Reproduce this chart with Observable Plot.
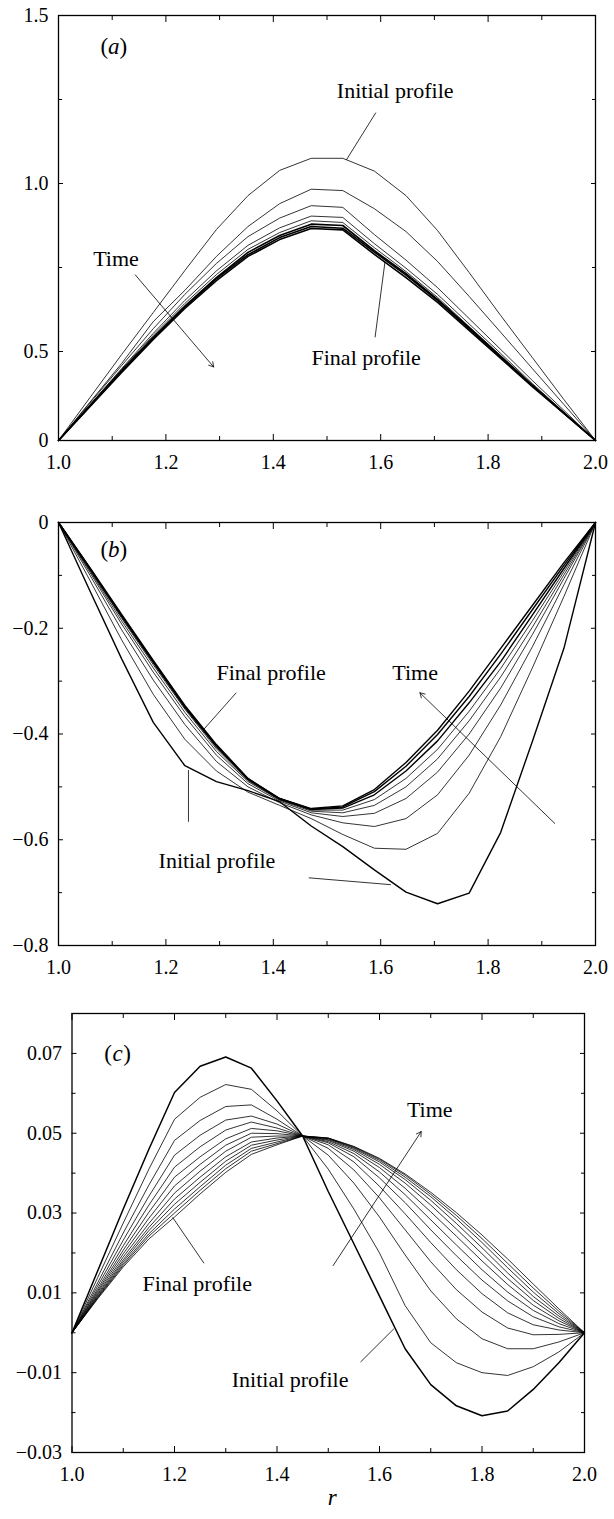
<!DOCTYPE html>
<html><head><meta charset="utf-8">
<script src="https://cdn.jsdelivr.net/npm/d3@7"></script>
<script src="https://cdn.jsdelivr.net/npm/@observablehq/plot@0.6"></script>
<style>body{margin:0;background:#fff} #chart svg{display:block}</style>
</head><body><div id="chart"></div>
<script>
// ---------- shared axis data ----------
const xMajor = [1, 1.2, 1.4, 1.6, 1.8, 2];
const xMajorLabels = ["1.0", "1.2", "1.4", "1.6", "1.8", "2.0"];
const xMinor = [1.1, 1.3, 1.5, 1.7, 1.9];

// ---------- panel (a) ----------
const rA = [1, 1.0588, 1.1176, 1.1765, 1.2353, 1.2941, 1.3529, 1.4118, 1.4706, 1.5294, 1.5882, 1.6471, 1.7059, 1.7647, 1.8235, 1.8824, 1.9412, 2];
const aInitial = [0, 0.242, 0.483, 0.616, 0.741, 0.863, 0.964, 1.039, 1.075, 1.075, 1.037, 0.964, 0.860, 0.735, 0.607, 0.466, 0.230, 0];
const aStep1 = [0, 0.216, 0.433, 0.589, 0.682, 0.783, 0.872, 0.940, 0.983, 0.979, 0.925, 0.857, 0.768, 0.664, 0.557, 0.404, 0.202, 0];
const aStep2 = [0, 0.211, 0.421, 0.568, 0.670, 0.762, 0.842, 0.897, 0.934, 0.929, 0.848, 0.772, 0.690, 0.598, 0.506, 0.337, 0.169, 0];
const aStep3 = [0, 0.202, 0.404, 0.554, 0.652, 0.740, 0.816, 0.868, 0.903, 0.899, 0.821, 0.748, 0.670, 0.582, 0.489, 0.320, 0.160, 0];
const aStep4 = [0, 0.199, 0.399, 0.548, 0.643, 0.729, 0.804, 0.854, 0.889, 0.884, 0.809, 0.738, 0.661, 0.574, 0.478, 0.315, 0.157, 0];
const aStep5 = [0, 0.197, 0.393, 0.542, 0.635, 0.720, 0.795, 0.845, 0.879, 0.875, 0.800, 0.732, 0.655, 0.571, 0.472, 0.309, 0.154, 0];
const aStep6 = [0, 0.194, 0.388, 0.539, 0.632, 0.717, 0.788, 0.839, 0.872, 0.867, 0.796, 0.727, 0.652, 0.568, 0.469, 0.309, 0.154, 0];
const aFinal = [0, 0.191, 0.382, 0.536, 0.628, 0.711, 0.783, 0.833, 0.866, 0.862, 0.789, 0.720, 0.646, 0.563, 0.461, 0.303, 0.152, 0];
const yMajorA = [0, 0.5, 1, 1.5];
const yMajorLabelsA = ["0", "0.5", "1.0", "1.5"];
const yMinorA = [0.75, 1.25];
const textsA = [
  {r: 1.627, v: 1.276, text: "Initial profile"},
  {r: 1.107, v: 0.775, text: "Time"},
  {r: 1.573, v: 0.464, text: "Final profile"}
];
const leadersA = [
  {r1: 1.591, v1: 1.211, r2: 1.536, v2: 1.070},
  {r1: 1.5895, v1: 0.542, r2: 1.608, v2: 0.767}
];
const arrowsA = [{r1: 1.143, v1: 0.728, r2: 1.289, v2: 0.413}];
const panelLabelA = [{r: 1.103, v: 1.407, letter: "a"}];

// ---------- panel (b) ----------
const rB = rA;
const bInitial = [0, -0.130, -0.258, -0.378, -0.460, -0.490, -0.507, -0.528, -0.574, -0.613, -0.657, -0.699, -0.721, -0.701, -0.586, -0.414, -0.238, 0];
const bStep1 = [0, -0.110, -0.222, -0.325, -0.410, -0.470, -0.510, -0.535, -0.560, -0.590, -0.616, -0.618, -0.588, -0.512, -0.405, -0.275, -0.140, 0];
const bStep2 = [0, -0.100, -0.203, -0.298, -0.382, -0.452, -0.500, -0.530, -0.553, -0.568, -0.575, -0.560, -0.515, -0.440, -0.345, -0.235, -0.118, 0];
const bStep3 = [0, -0.095, -0.192, -0.283, -0.367, -0.440, -0.494, -0.527, -0.549, -0.556, -0.550, -0.522, -0.472, -0.400, -0.313, -0.212, -0.106, 0];
const bStep4 = [0, -0.092, -0.186, -0.275, -0.359, -0.433, -0.490, -0.525, -0.546, -0.549, -0.535, -0.500, -0.447, -0.375, -0.292, -0.198, -0.099, 0];
const bStep5 = [0, -0.090, -0.181, -0.269, -0.353, -0.428, -0.488, -0.524, -0.544, -0.544, -0.524, -0.484, -0.429, -0.357, -0.276, -0.186, -0.093, 0];
const bStep6 = [0, -0.088, -0.178, -0.265, -0.350, -0.424, -0.486, -0.523, -0.543, -0.540, -0.515, -0.470, -0.413, -0.341, -0.263, -0.175, -0.087, 0];
const bStep7 = [0, -0.087, -0.176, -0.263, -0.348, -0.422, -0.485, -0.522, -0.542, -0.538, -0.509, -0.461, -0.401, -0.329, -0.249, -0.165, -0.081, 0];
const bFinal = [0, -0.086, -0.174, -0.261, -0.346, -0.420, -0.484, -0.522, -0.541, -0.536, -0.505, -0.454, -0.393, -0.319, -0.238, -0.157, -0.076, 0];
const yMajorB = [0, -0.2, -0.4, -0.6, -0.8];
const yMajorLabelsB = ["0", "\u22120.2", "\u22120.4", "\u22120.6", "\u22120.8"];
const yMinorB = [-0.1, -0.3, -0.5, -0.7];
const textsB = [
  {r: 1.396, v: -0.285, text: "Final profile"},
  {r: 1.664, v: -0.284, text: "Time"},
  {r: 1.295, v: -0.640, text: "Initial profile"}
];
const leadersB = [
  {r1: 1.331, v1: -0.322, r2: 1.269, v2: -0.393},
  {r1: 1.242, v1: -0.566, r2: 1.242, v2: -0.468},
  {r1: 1.466, v1: -0.672, r2: 1.619, v2: -0.685}
];
const arrowsB = [{r1: 1.924, v1: -0.569, r2: 1.673, v2: -0.322}];
const panelLabelB = [{r: 1.103, v: -0.052, letter: "b"}];

// ---------- panel (c) ----------
const rC = [1, 1.05, 1.1, 1.15, 1.2, 1.25, 1.3, 1.35, 1.4, 1.45, 1.5, 1.55, 1.6, 1.65, 1.7, 1.75, 1.8, 1.85, 1.9, 1.95, 2];
const cInitial = [0, 0.0155, 0.031, 0.046, 0.0602, 0.0668, 0.0691, 0.0663, 0.0581, 0.0493, 0.0354, 0.0223, 0.0092, -0.004, -0.013, -0.0183, -0.0208, -0.0196, -0.0142, -0.0075, 0];
const cStep1 = [0, 0.0138, 0.0275, 0.041, 0.0535, 0.059, 0.0622, 0.061, 0.0556, 0.0493, 0.041, 0.031, 0.020, 0.0068, -0.0025, -0.0075, -0.0100, -0.0107, -0.0085, -0.0048, 0];
const cStep2 = [0, 0.0125, 0.025, 0.037, 0.0482, 0.0532, 0.0567, 0.0571, 0.0535, 0.0493, 0.0445, 0.0375, 0.029, 0.0195, 0.0105, 0.0035, -0.0015, -0.0040, -0.0040, -0.0023, 0];
const cStep3 = [0, 0.0117, 0.0232, 0.0342, 0.0445, 0.0495, 0.0533, 0.0543, 0.0523, 0.0493, 0.0462, 0.0408, 0.0338, 0.0258, 0.0178, 0.0108, 0.0052, 0.0012, -0.0005, -0.0004, 0];
const cStep4 = [0, 0.011, 0.0218, 0.032, 0.0415, 0.0466, 0.0508, 0.0528, 0.0513, 0.0493, 0.0471, 0.0428, 0.0367, 0.0298, 0.0226, 0.0158, 0.0098, 0.0050, 0.0020, 0.0007, 0];
const cStep5 = [0, 0.0105, 0.0207, 0.0302, 0.039, 0.0441, 0.0486, 0.0512, 0.0506, 0.0493, 0.0476, 0.0441, 0.0388, 0.0326, 0.0258, 0.0193, 0.0132, 0.0080, 0.0040, 0.0015, 0];
const cStep6 = [0, 0.0101, 0.0198, 0.0287, 0.0368, 0.0422, 0.047, 0.050, 0.0499, 0.0493, 0.0479, 0.0449, 0.0403, 0.0346, 0.0283, 0.0220, 0.0158, 0.0102, 0.0056, 0.0023, 0];
const cStep7 = [0, 0.0097, 0.019, 0.0274, 0.035, 0.0405, 0.0455, 0.049, 0.0493, 0.0493, 0.0482, 0.0455, 0.0414, 0.0362, 0.0303, 0.0242, 0.0180, 0.0121, 0.0069, 0.0030, 0];
const cStep8 = [0, 0.0094, 0.0183, 0.0264, 0.0335, 0.039, 0.0441, 0.0478, 0.0488, 0.0493, 0.0484, 0.0459, 0.0422, 0.0375, 0.0320, 0.0260, 0.0198, 0.0136, 0.0081, 0.0036, 0];
const cStep9 = [0, 0.0091, 0.0178, 0.0256, 0.0322, 0.0377, 0.043, 0.047, 0.0483, 0.0493, 0.0486, 0.0462, 0.0428, 0.0384, 0.0332, 0.0274, 0.0213, 0.0150, 0.0091, 0.0042, 0];
const cStep10 = [0, 0.0089, 0.0173, 0.0248, 0.031, 0.0366, 0.042, 0.0462, 0.0478, 0.0493, 0.0487, 0.0464, 0.0432, 0.0390, 0.0341, 0.0286, 0.0226, 0.0163, 0.0102, 0.0048, 0];
const cStep11 = [0, 0.0087, 0.0169, 0.0242, 0.030, 0.0357, 0.0411, 0.0455, 0.0474, 0.0493, 0.0488, 0.0466, 0.0435, 0.0395, 0.0347, 0.0294, 0.0236, 0.0174, 0.0112, 0.0054, 0];
const cFinal = [0, 0.0085, 0.0165, 0.0235, 0.029, 0.0348, 0.0402, 0.0447, 0.0471, 0.0493, 0.0488, 0.0467, 0.0437, 0.0398, 0.0352, 0.0301, 0.0245, 0.0185, 0.0122, 0.0060, 0];
const yMajorC = [0.07, 0.05, 0.03, 0.01, -0.01, -0.03];
const yMajorLabelsC = ["0.07", "0.05", "0.03", "0.01", "\u22120.01", "\u22120.03"];
const yMinorC = [0.08, 0.06, 0.04, 0.02, 0, -0.02];
const textsC = [
  {r: 1.698, v: 0.0558, text: "Time"},
  {r: 1.2445, v: 0.01225, text: "Final profile"},
  {r: 1.4255, v: -0.0117, text: "Initial profile"}
];
const leadersC = [
  {r1: 1.2575, v1: 0.01742, r2: 1.1963, v2: 0.02892},
  {r1: 1.563, v1: -0.00733, r2: 1.628, v2: 0.0010}
];
const arrowsC = [{r1: 1.5095, v1: 0.01683, r2: 1.6814, v2: 0.05042}];
const panelLabelC = [{r: 1.089, v: 0.07, letter: "c"}];
const xTitle = ["r"];

// ---------- helpers ----------
const FONT = '"Liberation Serif", "DejaVu Serif", serif';
function rows(r, series) {
  const out = [];
  series.forEach((vals, id) => vals.forEach((v, i) => out.push({r: r[i], v, id})));
  return out;
}
function axes(yMajor, yLabels, yMinor) {
  const blank = () => "";
  return [
    Plot.axisX({anchor: "bottom", ticks: xMajor, tickSize: -6, tickPadding: 20, label: null,
      tickFormat: d => xMajorLabels[xMajor.indexOf(d)], fontSize: 20}),
    Plot.axisX({anchor: "bottom", ticks: xMinor, tickSize: -4, label: null, tickFormat: blank}),
    Plot.axisX({anchor: "top", ticks: xMajor, tickSize: -6, label: null, tickFormat: blank}),
    Plot.axisX({anchor: "top", ticks: xMinor, tickSize: -4, label: null, tickFormat: blank}),
    Plot.axisY({anchor: "left", ticks: yMajor, tickSize: -5, tickPadding: 15, label: null,
      tickFormat: d => yLabels[yMajor.indexOf(d)], fontSize: 20}),
    Plot.axisY({anchor: "left", ticks: yMinor, tickSize: -4, label: null, tickFormat: blank}),
    Plot.axisY({anchor: "right", ticks: yMajor, tickSize: -5, label: null, tickFormat: blank}),
    Plot.axisY({anchor: "right", ticks: yMinor, tickSize: -4, label: null, tickFormat: blank})
  ];
}
function annotations(texts, leaders, arrows, panelLabel) {
  return [
    Plot.link(leaders, {x1: "r1", y1: "v1", x2: "r2", y2: "v2", stroke: "black", strokeWidth: 0.8}),
    Plot.arrow(arrows, {x1: "r1", y1: "v1", x2: "r2", y2: "v2", stroke: "black", strokeWidth: 0.8, headLength: 10}),
    Plot.text(texts, {x: "r", y: "v", text: "text", fontSize: 22, fill: "black"}),
    Plot.text(panelLabel, {x: "r", y: "v", text: () => "(", dx: -9.5, fontSize: 23}),
    Plot.text(panelLabel, {x: "r", y: "v", text: "letter", fontStyle: "italic", fontSize: 23}),
    Plot.text(panelLabel, {x: "r", y: "v", text: () => ")", dx: 9.5, fontSize: 23})
  ];
}
const style = {fontFamily: FONT, fontSize: "20px", background: "white", color: "black", overflow: "visible"};

// ---------- panel (a) plot ----------
const thinA = rows(rA, [aInitial, aStep1, aStep2, aStep3, aStep4]);
const thickA = rows(rA, [aStep5, aStep6, aFinal]);
const plotA = Plot.plot({
  width: 614, height: 480, marginTop: 15, marginBottom: 40, marginLeft: 58, marginRight: 19,
  style,
  x: {domain: [1, 2], label: null},
  y: {type: "linear", domain: [0, 0.5, 1.5], range: [440, 351, 15], label: null},
  marks: [
    Plot.line(thinA, {x: "r", y: "v", z: "id", stroke: "black", strokeWidth: 0.8}),
    Plot.line(thickA, {x: "r", y: "v", z: "id", stroke: "black", strokeWidth: 1.6}),
    ...annotations(textsA, leadersA, arrowsA, panelLabelA),
    Plot.frame({stroke: "black", strokeWidth: 1.3}),
    ...axes(yMajorA, yMajorLabelsA, yMinorA)
  ]
});

// ---------- panel (b) plot ----------
const thinB = rows(rB, [bStep1, bStep2, bStep3, bStep4, bStep5]);
const thickB = rows(rB, [bInitial, bStep6, bStep7, bFinal]);
const plotB = Plot.plot({
  width: 614, height: 500, marginTop: 42, marginBottom: 35, marginLeft: 58, marginRight: 19,
  style,
  x: {domain: [1, 2], label: null},
  y: {domain: [-0.8, 0], label: null},
  marks: [
    Plot.line(thinB, {x: "r", y: "v", z: "id", stroke: "black", strokeWidth: 0.8}),
    Plot.line(thickB, {x: "r", y: "v", z: "id", stroke: "black", strokeWidth: 1.4}),
    ...annotations(textsB, leadersB, arrowsB, panelLabelB),
    Plot.frame({stroke: "black", strokeWidth: 1.3}),
    ...axes(yMajorB, yMajorLabelsB, yMinorB)
  ]
});

// ---------- panel (c) plot ----------
const thinC = rows(rC, [cStep1, cStep2, cStep3, cStep4, cStep5, cStep6, cStep7, cStep8, cStep9, cStep10, cStep11, cFinal]);
const thickC = rows(rC, [cInitial]);
const plotC = Plot.plot({
  width: 614, height: 539, marginTop: 33, marginBottom: 67, marginLeft: 71.5, marginRight: 30,
  style,
  x: {domain: [1, 2], label: null},
  y: {domain: [-0.03, 0.08], label: null},
  marks: [
    Plot.line(thinC, {x: "r", y: "v", z: "id", stroke: "black", strokeWidth: 0.8}),
    Plot.line(thickC, {x: "r", y: "v", z: "id", stroke: "black", strokeWidth: 1.5}),
    ...annotations(textsC, leadersC, arrowsC, panelLabelC),
    Plot.frame({stroke: "black", strokeWidth: 1.3}),
    ...axes(yMajorC, yMajorLabelsC, yMinorC),
    Plot.text(xTitle, {text: d => d, frameAnchor: "bottom", dy: 52, dx: 4, fontSize: 23, fontStyle: "italic"})
  ]
});

const root = document.getElementById("chart");
root.append(plotA, plotB, plotC);
</script></body></html>
